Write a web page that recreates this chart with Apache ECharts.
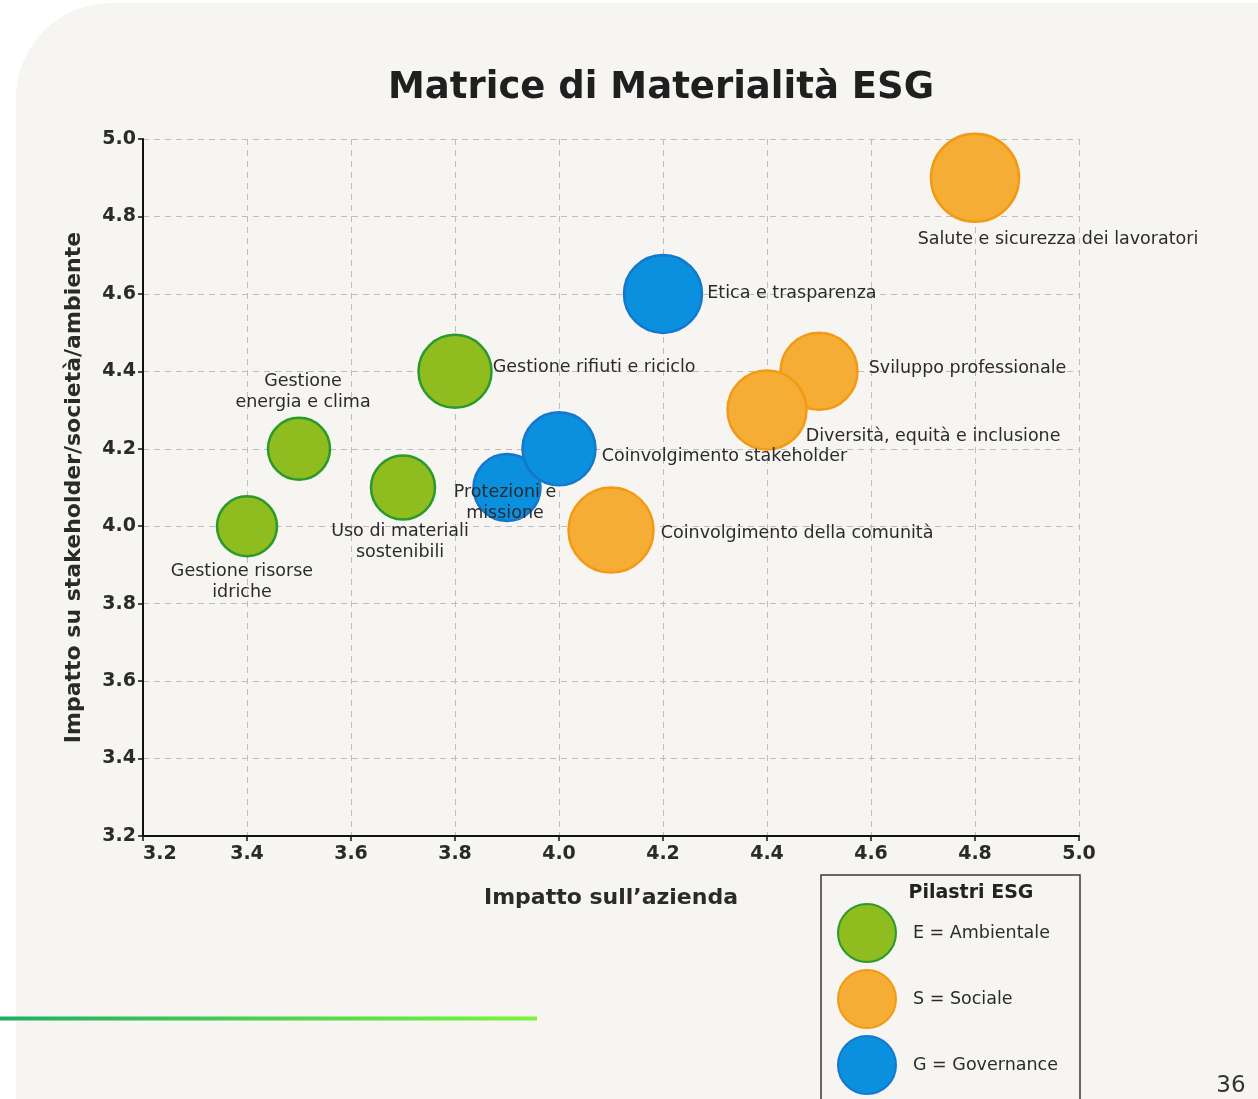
<!DOCTYPE html>
<html><head><meta charset="utf-8">
<script src="https://cdn.jsdelivr.net/npm/echarts@6/dist/echarts.min.js"></script>
<style>html,body{margin:0;padding:0;background:#fff}#c{width:1258px;height:1099px}</style>
</head><body><div id="c"></div>
<script>
// ---- data ----
const temi = [
  'Gestione risorse idriche',
  'Gestione energia e clima',
  'Uso di materiali sostenibili',
  'Gestione rifiuti e riciclo',
  'Protezioni e missione',
  'Coinvolgimento stakeholder',
  'Etica e trasparenza',
  'Coinvolgimento della comunità',
  'Sviluppo professionale',
  'Diversità, equità e inclusione',
  'Salute e sicurezza dei lavoratori'
];
const pilastro = ['E','E','E','E','G','G','G','S','S','S','S'];
const impattoAzienda = [3.4, 3.5, 3.7, 3.8, 3.9, 4.0, 4.2, 4.1, 4.5, 4.4, 4.8];
const impattoStakeholder = [4.0, 4.2, 4.1, 4.4, 4.1, 4.2, 4.6, 3.99, 4.4, 4.3, 4.9];
const rilevanza = [3.0, 3.1, 3.2, 3.65, 3.35, 3.65, 3.9, 4.25, 3.85, 3.95, 4.4];
const pilastriCodici = ['E','S','G'];
const pilastriNomi = ['E = Ambientale','S = Sociale','G = Governance'];
const assiMin = 3.2, assiMax = 5.0, assiPasso = 0.2;

// ---- styles / layout ----
const FONT = 'DejaVu Sans';
const colori = {
  E: {fill:'#8fbc1e', border:'#2a9a2c'},
  S: {fill:'#f5ad35', border:'#f39a14'},
  G: {fill:'#0b8fdf', border:'#1478cc'}
};
const etichette = {
  'Gestione risorse idriche': {position:'bottom', distance:3, offset:[-5,0], text:'Gestione risorse\nidriche'},
  'Gestione energia e clima': {position:'top', distance:4, offset:[4,0], text:'Gestione\nenergia e clima'},
  'Uso di materiali sostenibili': {position:'bottom', distance:0, offset:[-3,0], text:'Uso di materiali\nsostenibili'},
  'Gestione rifiuti e riciclo': {position:'right', distance:0, offset:[0,-4]},
  'Protezioni e missione': {position:'inside', offset:[-2,15], text:'Protezioni e\nmissione'},
  'Coinvolgimento stakeholder': {position:'right', distance:5, offset:[0,8]},
  'Etica e trasparenza': {position:'right', distance:4},
  'Coinvolgimento della comunità': {position:'right', distance:6, offset:[0,3]},
  'Sviluppo professionale': {position:'right', distance:10, offset:[0,-3]},
  'Diversità, equità e inclusione': {position:'right', distance:0, offset:[-2,26]},
  'Salute e sicurezza dei lavoratori': {position:'bottom', distance:6, offset:[83,0]}
};

function serieDi(code, idx) {
  const data = [];
  temi.forEach((t, i) => {
    if (pilastro[i] !== code) return;
    const e = etichette[t];
    data.push({
      name: t,
      value: [impattoAzienda[i], impattoStakeholder[i], rilevanza[i]],
      label: {
        show: true,
        position: e.position,
        distance: e.distance || 0,
        offset: e.offset || [0,0],
        formatter: e.text || t,
        align: e.position === 'right' ? 'left' : 'center'
      }
    });
  });
  return {
    type: 'scatter',
    name: pilastriNomi[idx],
    data: data,
    symbolSize: v => v[2] * 20,
    itemStyle: {color: colori[code].fill, borderColor: colori[code].border, borderWidth: 2.5, opacity: 1},
    label: {color: '#2b2b2b', fontFamily: FONT, fontSize: 17.5, lineHeight: 21},
    emphasis: {disabled: true}
  };
}

const chart = echarts.init(document.getElementById('c'), null, {renderer: 'canvas'});
const tickLabel = {color: '#2a2a2a', fontFamily: FONT, fontSize: 19, fontWeight: 'bold', formatter: v => v.toFixed(1)};
const split = {show: true, lineStyle: {color: '#bdbdbd', type: [6,5], width: 1}};
chart.setOption({
  backgroundColor: '#ffffff',
  animation: false,
  title: {
    text: 'Matrice di Materialità ESG',
    left: 383, top: 65,
    textStyle: {fontFamily: FONT, fontSize: 37, fontWeight: 600, color: '#1f1f1f'}
  },
  grid: {left: 143, top: 139, width: 936, height: 697},
  xAxis: {
    type: 'value', min: assiMin, max: assiMax, interval: assiPasso,
    name: 'Impatto sull’azienda', nameLocation: 'middle', nameGap: 51,
    nameTextStyle: {fontFamily: FONT, fontSize: 22, fontWeight: 600, color: '#2a2a2a'},
    axisLine: {show: true, lineStyle: {color: '#111', width: 2}},
    axisTick: {show: true, length: 5, lineStyle: {color: '#111', width: 1.5}},
    axisLabel: Object.assign({margin: 9, alignMinLabel: 'left'}, tickLabel),
    splitLine: split
  },
  yAxis: {
    type: 'value', min: assiMin, max: assiMax, interval: assiPasso,
    name: 'Impatto su stakeholder/società/ambiente', nameLocation: 'middle', nameGap: 58,
    nameTextStyle: {fontFamily: FONT, fontSize: 22, fontWeight: 600, color: '#2a2a2a'},
    axisLine: {show: true, lineStyle: {color: '#111', width: 2}},
    axisTick: {show: true, length: 5, lineStyle: {color: '#111', width: 1.5}},
    axisLabel: Object.assign({margin: 7}, tickLabel),
    splitLine: split
  },
  legend: {
    orient: 'vertical', left: 837, top: 903, padding: 0,
    itemWidth: 58, itemHeight: 58, itemGap: 6, icon: 'circle',
    data: pilastriNomi,
    textStyle: {fontFamily: FONT, fontSize: 17.5, color: '#2b2b2b', padding: [4,0,0,12]},
    selectedMode: false
  },
  graphic: [
    {type: 'rect', z: -10, silent: true, shape: {x: 16, y: 3, width: 1400, height: 1200, r: [95, 0, 0, 0]}, style: {fill: '#f6f5f1'}},
    {type: 'rect', z: -9, silent: true, shape: {x: 0, y: 1016.5, width: 537, height: 4},
      style: {fill: new echarts.graphic.LinearGradient(0, 0, 1, 0, [{offset: 0, color: '#1fae62'}, {offset: 1, color: '#7bf53a'}])}},
    {type: 'rect', z: -8, silent: true, shape: {x: 821, y: 875, width: 259, height: 260},
      style: {fill: 'none', stroke: '#3a3a3a', lineWidth: 1.5}},
    {type: 'text', silent: true, x: 971, y: 893, style: {text: 'Pilastri ESG', fontFamily: FONT, fontSize: 19, fontWeight: 600, fill: '#222', align: 'center', verticalAlign: 'middle'}},
    {type: 'text', silent: true, x: 1231, y: 1086, style: {text: '36', fontFamily: FONT, fontSize: 23, fill: '#333', align: 'center', verticalAlign: 'middle'}}
  ],
  series: pilastriCodici.map((c, i) => serieDi(c, i))
});
</script></body></html>
